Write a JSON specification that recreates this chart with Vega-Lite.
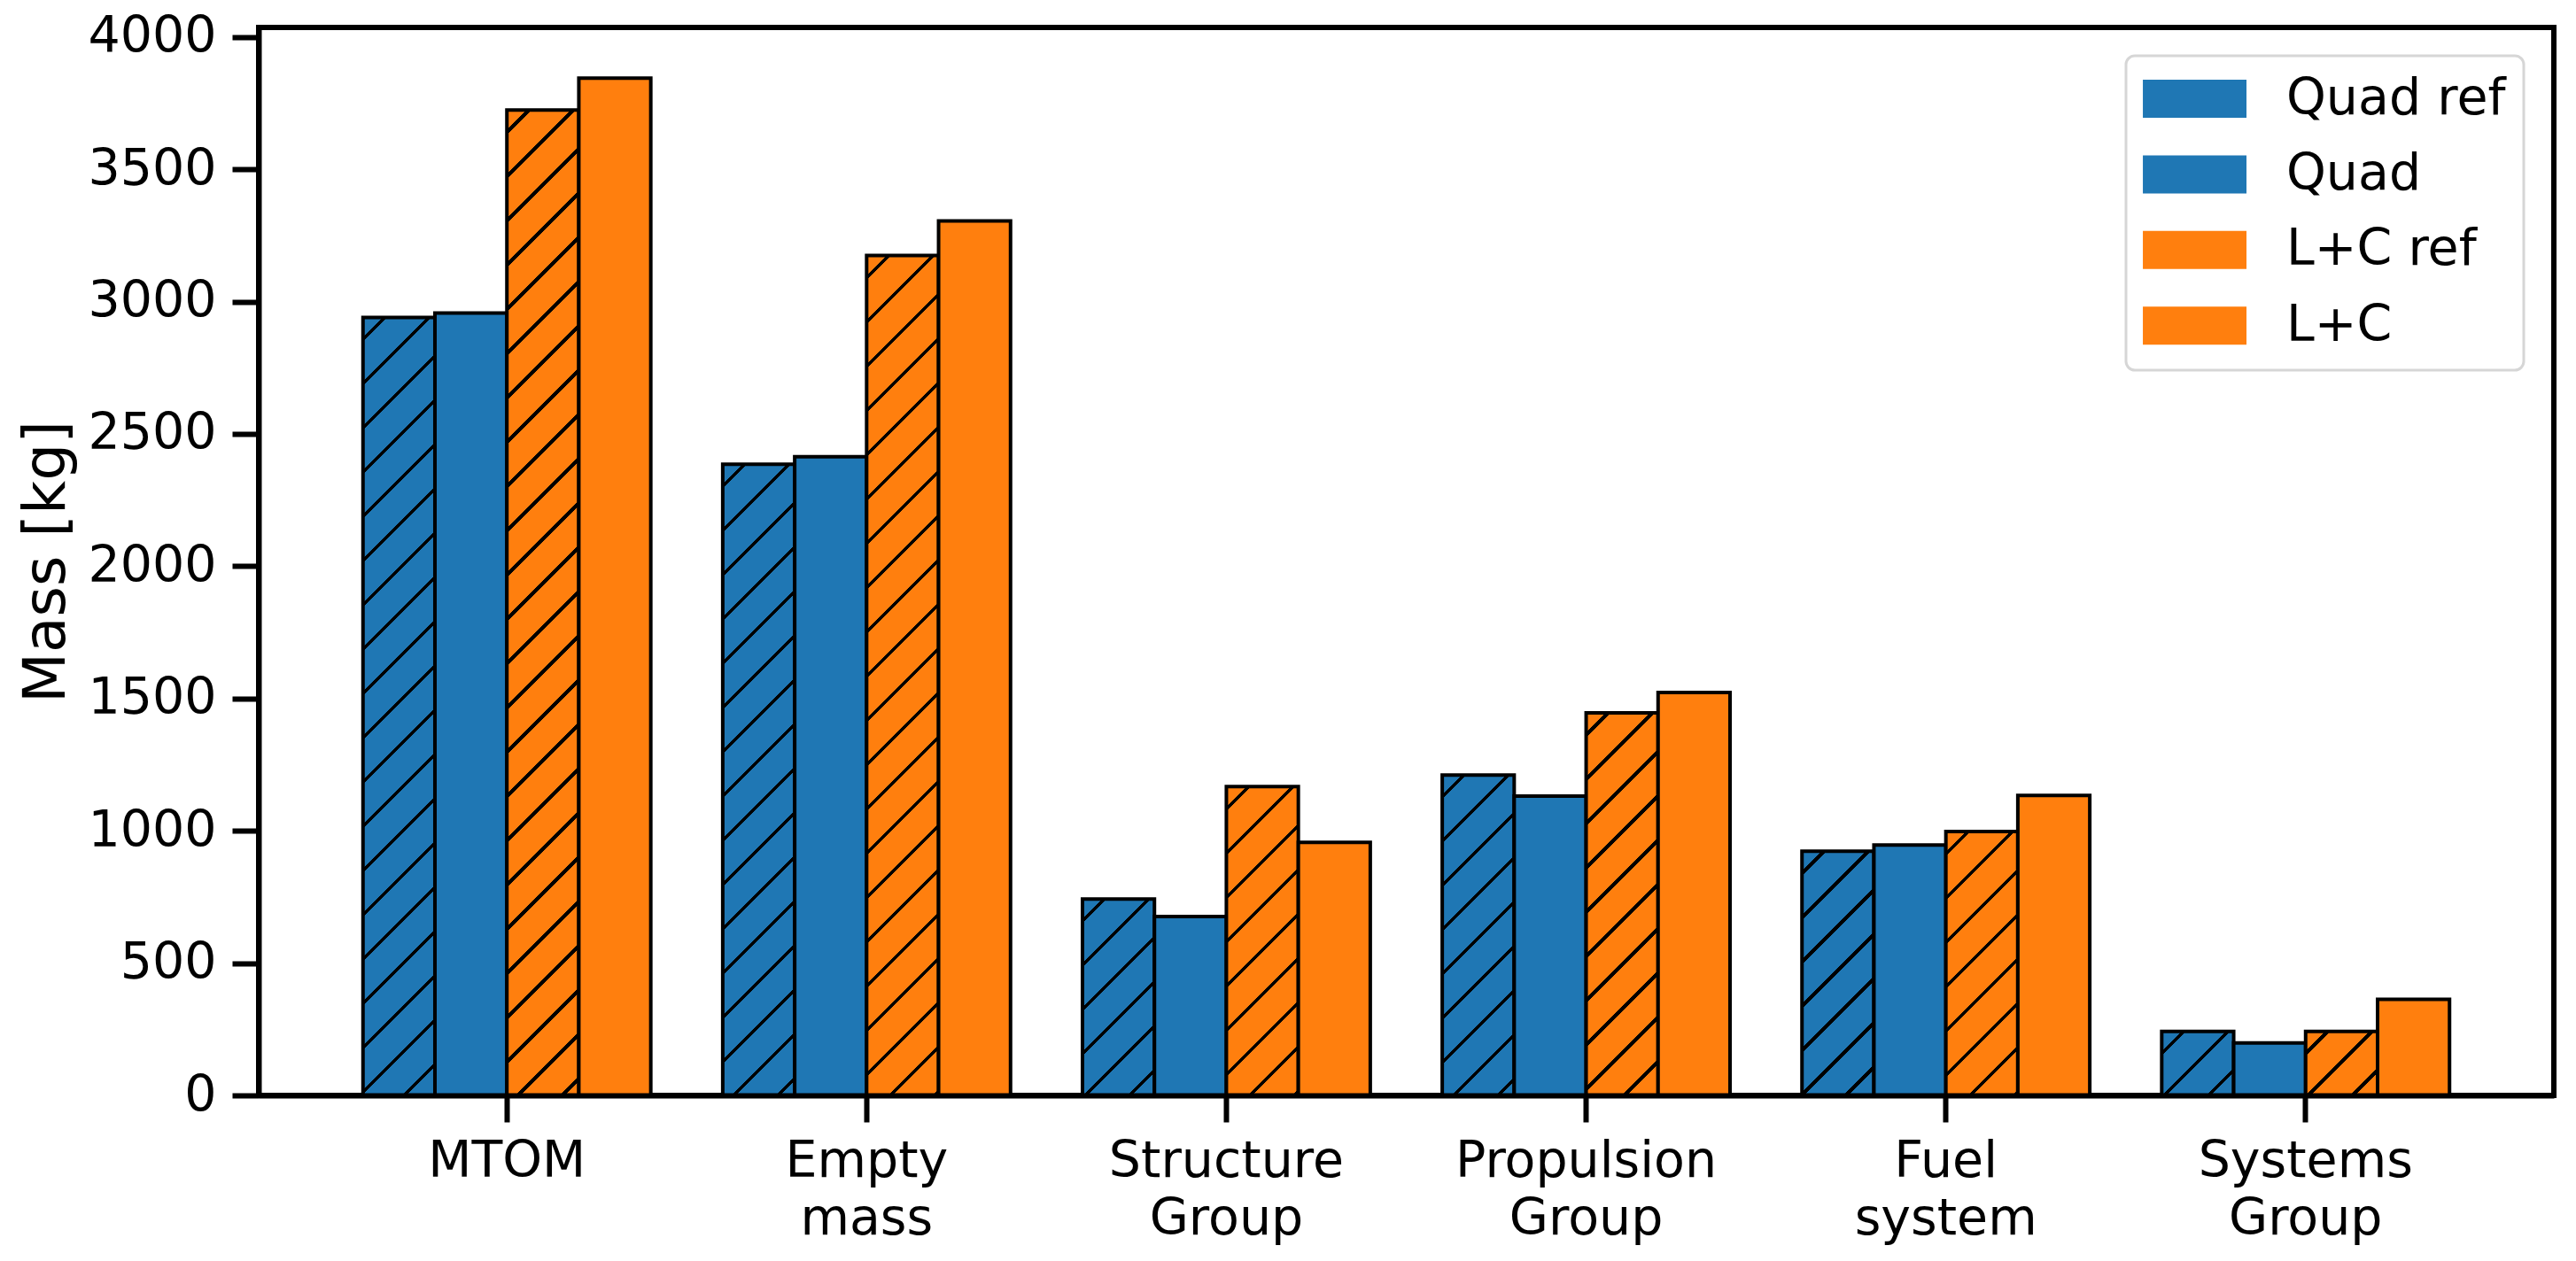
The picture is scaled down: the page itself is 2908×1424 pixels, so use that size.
{
  "$schema": "https://vega.github.io/schema/vega-lite/v6.json",
  "width": 2591,
  "height": 1206,
  "autosize": {"type": "none"},
  "padding": {"left": 292, "top": 31, "right": 25, "bottom": 187},
  "data": {
    "values": [
      {"cat": "MTOM", "series": "Quad ref", "mass": 2940},
      {"cat": "MTOM", "series": "Quad", "mass": 2957},
      {"cat": "MTOM", "series": "L+C ref", "mass": 3724},
      {"cat": "MTOM", "series": "L+C", "mass": 3844},
      {"cat": "Empty mass", "series": "Quad ref", "mass": 2385},
      {"cat": "Empty mass", "series": "Quad", "mass": 2414},
      {"cat": "Empty mass", "series": "L+C ref", "mass": 3174},
      {"cat": "Empty mass", "series": "L+C", "mass": 3305},
      {"cat": "Structure Group", "series": "Quad ref", "mass": 742},
      {"cat": "Structure Group", "series": "Quad", "mass": 676},
      {"cat": "Structure Group", "series": "L+C ref", "mass": 1167},
      {"cat": "Structure Group", "series": "L+C", "mass": 956},
      {"cat": "Propulsion Group", "series": "Quad ref", "mass": 1211},
      {"cat": "Propulsion Group", "series": "Quad", "mass": 1131},
      {"cat": "Propulsion Group", "series": "L+C ref", "mass": 1446},
      {"cat": "Propulsion Group", "series": "L+C", "mass": 1523},
      {"cat": "Fuel system", "series": "Quad ref", "mass": 923},
      {"cat": "Fuel system", "series": "Quad", "mass": 946},
      {"cat": "Fuel system", "series": "L+C ref", "mass": 997},
      {"cat": "Fuel system", "series": "L+C", "mass": 1134},
      {"cat": "Systems Group", "series": "Quad ref", "mass": 242},
      {"cat": "Systems Group", "series": "Quad", "mass": 198},
      {"cat": "Systems Group", "series": "L+C ref", "mass": 242},
      {"cat": "Systems Group", "series": "L+C", "mass": 363}
    ]
  },
  "encoding": {
    "x": {
      "field": "cat",
      "type": "nominal",
      "sort": ["MTOM", "Empty mass", "Structure Group", "Propulsion Group", "Fuel system", "Systems Group"],
      "scale": {"paddingInner": 0.2, "paddingOuter": 0.29},
      "axis": {
        "title": null,
        "labelAngle": 0,
        "labelExpr": "split(datum.label, ' ')",
        "labelFontSize": 57,
        "labelLineHeight": 65,
        "labelPadding": 16,
        "labelColor": "black",
        "labelLimit": 0,
        "tickSize": 30,
        "tickWidth": 6,
        "tickColor": "black",
        "domainWidth": 6,
        "domainColor": "black",
        "zindex": 1
      }
    },
    "xOffset": {
      "field": "series",
      "sort": ["Quad ref", "Quad", "L+C ref", "L+C"],
      "scale": {"paddingInner": 0, "paddingOuter": 0}
    },
    "y": {
      "field": "mass",
      "type": "quantitative",
      "scale": {"domain": [0, 4036], "nice": false},
      "axis": {
        "title": "Mass [kg]",
        "values": [0, 500, 1000, 1500, 2000, 2500, 3000, 3500, 4000],
        "format": "d",
        "grid": false,
        "labelFontSize": 57,
        "labelPadding": 18,
        "labelColor": "black",
        "tickSize": 30,
        "tickWidth": 6,
        "tickColor": "black",
        "domainWidth": 6,
        "domainColor": "black",
        "titleFontSize": 66,
        "titleFontWeight": "normal",
        "titleColor": "black",
        "titlePadding": 12,
        "zindex": 1
      }
    },
    "fill": {
      "field": "series",
      "type": "nominal",
      "scale": {
        "domain": ["Quad ref", "Quad", "L+C ref", "L+C"],
        "range": ["#1f77b4", "#1f77b4", "#ff7f0e", "#ff7f0e"]
      },
      "legend": {"title": null, "orient": "none", "legendX": 2108, "legendY": 32},
      "condition": [
        {"test": "datum.series === 'Quad ref' && datum.cat === 'MTOM'", "value": {"gradient": "linear", "x1": 0, "y1": 0, "x2": 0.12519, "y2": 1.3544, "stops": [
          {"offset": 0.0186, "color": "#1f77b4"}, {"offset": 0.0186, "color": "#000"}, {"offset": 0.023, "color": "#000"}, {"offset": 0.023, "color": "#1f77b4"},
          {"offset": 0.0603, "color": "#1f77b4"}, {"offset": 0.0603, "color": "#000"}, {"offset": 0.0647, "color": "#000"}, {"offset": 0.0647, "color": "#1f77b4"},
          {"offset": 0.102, "color": "#1f77b4"}, {"offset": 0.102, "color": "#000"}, {"offset": 0.1064, "color": "#000"}, {"offset": 0.1064, "color": "#1f77b4"},
          {"offset": 0.1436, "color": "#1f77b4"}, {"offset": 0.1436, "color": "#000"}, {"offset": 0.148, "color": "#000"}, {"offset": 0.148, "color": "#1f77b4"},
          {"offset": 0.1853, "color": "#1f77b4"}, {"offset": 0.1853, "color": "#000"}, {"offset": 0.1897, "color": "#000"}, {"offset": 0.1897, "color": "#1f77b4"},
          {"offset": 0.227, "color": "#1f77b4"}, {"offset": 0.227, "color": "#000"}, {"offset": 0.2314, "color": "#000"}, {"offset": 0.2314, "color": "#1f77b4"},
          {"offset": 0.2686, "color": "#1f77b4"}, {"offset": 0.2686, "color": "#000"}, {"offset": 0.273, "color": "#000"}, {"offset": 0.273, "color": "#1f77b4"},
          {"offset": 0.3103, "color": "#1f77b4"}, {"offset": 0.3103, "color": "#000"}, {"offset": 0.3147, "color": "#000"}, {"offset": 0.3147, "color": "#1f77b4"},
          {"offset": 0.352, "color": "#1f77b4"}, {"offset": 0.352, "color": "#000"}, {"offset": 0.3564, "color": "#000"}, {"offset": 0.3564, "color": "#1f77b4"},
          {"offset": 0.3936, "color": "#1f77b4"}, {"offset": 0.3936, "color": "#000"}, {"offset": 0.398, "color": "#000"}, {"offset": 0.398, "color": "#1f77b4"},
          {"offset": 0.4353, "color": "#1f77b4"}, {"offset": 0.4353, "color": "#000"}, {"offset": 0.4397, "color": "#000"}, {"offset": 0.4397, "color": "#1f77b4"},
          {"offset": 0.477, "color": "#1f77b4"}, {"offset": 0.477, "color": "#000"}, {"offset": 0.4814, "color": "#000"}, {"offset": 0.4814, "color": "#1f77b4"},
          {"offset": 0.5186, "color": "#1f77b4"}, {"offset": 0.5186, "color": "#000"}, {"offset": 0.523, "color": "#000"}, {"offset": 0.523, "color": "#1f77b4"},
          {"offset": 0.5603, "color": "#1f77b4"}, {"offset": 0.5603, "color": "#000"}, {"offset": 0.5647, "color": "#000"}, {"offset": 0.5647, "color": "#1f77b4"},
          {"offset": 0.602, "color": "#1f77b4"}, {"offset": 0.602, "color": "#000"}, {"offset": 0.6064, "color": "#000"}, {"offset": 0.6064, "color": "#1f77b4"},
          {"offset": 0.6436, "color": "#1f77b4"}, {"offset": 0.6436, "color": "#000"}, {"offset": 0.648, "color": "#000"}, {"offset": 0.648, "color": "#1f77b4"},
          {"offset": 0.6853, "color": "#1f77b4"}, {"offset": 0.6853, "color": "#000"}, {"offset": 0.6897, "color": "#000"}, {"offset": 0.6897, "color": "#1f77b4"},
          {"offset": 0.727, "color": "#1f77b4"}, {"offset": 0.727, "color": "#000"}, {"offset": 0.7314, "color": "#000"}, {"offset": 0.7314, "color": "#1f77b4"},
          {"offset": 0.7686, "color": "#1f77b4"}, {"offset": 0.7686, "color": "#000"}, {"offset": 0.773, "color": "#000"}, {"offset": 0.773, "color": "#1f77b4"}
        ]}},
        {"test": "datum.series === 'Quad ref' && datum.cat === 'Empty mass'", "value": {"gradient": "linear", "x1": 0, "y1": 0, "x2": 0.1894, "y2": 1.66225, "stops": [
          {"offset": 0.0186, "color": "#1f77b4"}, {"offset": 0.0186, "color": "#000"}, {"offset": 0.023, "color": "#000"}, {"offset": 0.023, "color": "#1f77b4"},
          {"offset": 0.0603, "color": "#1f77b4"}, {"offset": 0.0603, "color": "#000"}, {"offset": 0.0647, "color": "#000"}, {"offset": 0.0647, "color": "#1f77b4"},
          {"offset": 0.102, "color": "#1f77b4"}, {"offset": 0.102, "color": "#000"}, {"offset": 0.1064, "color": "#000"}, {"offset": 0.1064, "color": "#1f77b4"},
          {"offset": 0.1436, "color": "#1f77b4"}, {"offset": 0.1436, "color": "#000"}, {"offset": 0.148, "color": "#000"}, {"offset": 0.148, "color": "#1f77b4"},
          {"offset": 0.1853, "color": "#1f77b4"}, {"offset": 0.1853, "color": "#000"}, {"offset": 0.1897, "color": "#000"}, {"offset": 0.1897, "color": "#1f77b4"},
          {"offset": 0.227, "color": "#1f77b4"}, {"offset": 0.227, "color": "#000"}, {"offset": 0.2314, "color": "#000"}, {"offset": 0.2314, "color": "#1f77b4"},
          {"offset": 0.2686, "color": "#1f77b4"}, {"offset": 0.2686, "color": "#000"}, {"offset": 0.273, "color": "#000"}, {"offset": 0.273, "color": "#1f77b4"},
          {"offset": 0.3103, "color": "#1f77b4"}, {"offset": 0.3103, "color": "#000"}, {"offset": 0.3147, "color": "#000"}, {"offset": 0.3147, "color": "#1f77b4"},
          {"offset": 0.352, "color": "#1f77b4"}, {"offset": 0.352, "color": "#000"}, {"offset": 0.3564, "color": "#000"}, {"offset": 0.3564, "color": "#1f77b4"},
          {"offset": 0.3936, "color": "#1f77b4"}, {"offset": 0.3936, "color": "#000"}, {"offset": 0.398, "color": "#000"}, {"offset": 0.398, "color": "#1f77b4"},
          {"offset": 0.4353, "color": "#1f77b4"}, {"offset": 0.4353, "color": "#000"}, {"offset": 0.4397, "color": "#000"}, {"offset": 0.4397, "color": "#1f77b4"},
          {"offset": 0.477, "color": "#1f77b4"}, {"offset": 0.477, "color": "#000"}, {"offset": 0.4814, "color": "#000"}, {"offset": 0.4814, "color": "#1f77b4"},
          {"offset": 0.5186, "color": "#1f77b4"}, {"offset": 0.5186, "color": "#000"}, {"offset": 0.523, "color": "#000"}, {"offset": 0.523, "color": "#1f77b4"},
          {"offset": 0.5603, "color": "#1f77b4"}, {"offset": 0.5603, "color": "#000"}, {"offset": 0.5647, "color": "#000"}, {"offset": 0.5647, "color": "#1f77b4"},
          {"offset": 0.602, "color": "#1f77b4"}, {"offset": 0.602, "color": "#000"}, {"offset": 0.6064, "color": "#000"}, {"offset": 0.6064, "color": "#1f77b4"},
          {"offset": 0.6436, "color": "#1f77b4"}, {"offset": 0.6436, "color": "#000"}, {"offset": 0.648, "color": "#000"}, {"offset": 0.648, "color": "#1f77b4"}
        ]}},
        {"test": "datum.series === 'Quad ref' && datum.cat === 'Structure Group'", "value": {"gradient": "linear", "x1": 0, "y1": 0, "x2": 1.74771, "y2": 4.77219, "stops": [
          {"offset": 0.0186, "color": "#1f77b4"}, {"offset": 0.0186, "color": "#000"}, {"offset": 0.023, "color": "#000"}, {"offset": 0.023, "color": "#1f77b4"},
          {"offset": 0.0603, "color": "#1f77b4"}, {"offset": 0.0603, "color": "#000"}, {"offset": 0.0647, "color": "#000"}, {"offset": 0.0647, "color": "#1f77b4"},
          {"offset": 0.102, "color": "#1f77b4"}, {"offset": 0.102, "color": "#000"}, {"offset": 0.1064, "color": "#000"}, {"offset": 0.1064, "color": "#1f77b4"},
          {"offset": 0.1436, "color": "#1f77b4"}, {"offset": 0.1436, "color": "#000"}, {"offset": 0.148, "color": "#000"}, {"offset": 0.148, "color": "#1f77b4"},
          {"offset": 0.1853, "color": "#1f77b4"}, {"offset": 0.1853, "color": "#000"}, {"offset": 0.1897, "color": "#000"}, {"offset": 0.1897, "color": "#1f77b4"},
          {"offset": 0.227, "color": "#1f77b4"}, {"offset": 0.227, "color": "#000"}, {"offset": 0.2314, "color": "#000"}, {"offset": 0.2314, "color": "#1f77b4"}
        ]}},
        {"test": "datum.series === 'Quad ref' && datum.cat === 'Propulsion Group'", "value": {"gradient": "linear", "x1": 0, "y1": 0, "x2": 0.70847, "y2": 3.1572, "stops": [
          {"offset": 0.0186, "color": "#1f77b4"}, {"offset": 0.0186, "color": "#000"}, {"offset": 0.023, "color": "#000"}, {"offset": 0.023, "color": "#1f77b4"},
          {"offset": 0.0603, "color": "#1f77b4"}, {"offset": 0.0603, "color": "#000"}, {"offset": 0.0647, "color": "#000"}, {"offset": 0.0647, "color": "#1f77b4"},
          {"offset": 0.102, "color": "#1f77b4"}, {"offset": 0.102, "color": "#000"}, {"offset": 0.1064, "color": "#000"}, {"offset": 0.1064, "color": "#1f77b4"},
          {"offset": 0.1436, "color": "#1f77b4"}, {"offset": 0.1436, "color": "#000"}, {"offset": 0.148, "color": "#000"}, {"offset": 0.148, "color": "#1f77b4"},
          {"offset": 0.1853, "color": "#1f77b4"}, {"offset": 0.1853, "color": "#000"}, {"offset": 0.1897, "color": "#000"}, {"offset": 0.1897, "color": "#1f77b4"},
          {"offset": 0.227, "color": "#1f77b4"}, {"offset": 0.227, "color": "#000"}, {"offset": 0.2314, "color": "#000"}, {"offset": 0.2314, "color": "#1f77b4"},
          {"offset": 0.2686, "color": "#1f77b4"}, {"offset": 0.2686, "color": "#000"}, {"offset": 0.273, "color": "#000"}, {"offset": 0.273, "color": "#1f77b4"},
          {"offset": 0.3103, "color": "#1f77b4"}, {"offset": 0.3103, "color": "#000"}, {"offset": 0.3147, "color": "#000"}, {"offset": 0.3147, "color": "#1f77b4"},
          {"offset": 0.352, "color": "#1f77b4"}, {"offset": 0.352, "color": "#000"}, {"offset": 0.3564, "color": "#000"}, {"offset": 0.3564, "color": "#1f77b4"}
        ]}},
        {"test": "datum.series === 'Quad ref' && datum.cat === 'Fuel system'", "value": {"gradient": "linear", "x1": 0, "y1": 0, "x2": 1.17882, "y2": 4.00392, "stops": [
          {"offset": 0.0186, "color": "#1f77b4"}, {"offset": 0.0186, "color": "#000"}, {"offset": 0.023, "color": "#000"}, {"offset": 0.023, "color": "#1f77b4"},
          {"offset": 0.0603, "color": "#1f77b4"}, {"offset": 0.0603, "color": "#000"}, {"offset": 0.0647, "color": "#000"}, {"offset": 0.0647, "color": "#1f77b4"},
          {"offset": 0.102, "color": "#1f77b4"}, {"offset": 0.102, "color": "#000"}, {"offset": 0.1064, "color": "#000"}, {"offset": 0.1064, "color": "#1f77b4"},
          {"offset": 0.1436, "color": "#1f77b4"}, {"offset": 0.1436, "color": "#000"}, {"offset": 0.148, "color": "#000"}, {"offset": 0.148, "color": "#1f77b4"},
          {"offset": 0.1853, "color": "#1f77b4"}, {"offset": 0.1853, "color": "#000"}, {"offset": 0.1897, "color": "#000"}, {"offset": 0.1897, "color": "#1f77b4"},
          {"offset": 0.227, "color": "#1f77b4"}, {"offset": 0.227, "color": "#000"}, {"offset": 0.2314, "color": "#000"}, {"offset": 0.2314, "color": "#1f77b4"},
          {"offset": 0.2686, "color": "#1f77b4"}, {"offset": 0.2686, "color": "#000"}, {"offset": 0.273, "color": "#000"}, {"offset": 0.273, "color": "#1f77b4"}
        ]}},
        {"test": "datum.series === 'Quad ref' && datum.cat === 'Systems Group'", "value": {"gradient": "linear", "x1": 0, "y1": 0, "x2": 8.24226, "y2": 7.33988, "stops": [
          {"offset": 0.0186, "color": "#1f77b4"}, {"offset": 0.0186, "color": "#000"}, {"offset": 0.023, "color": "#000"}, {"offset": 0.023, "color": "#1f77b4"},
          {"offset": 0.0603, "color": "#1f77b4"}, {"offset": 0.0603, "color": "#000"}, {"offset": 0.0647, "color": "#000"}, {"offset": 0.0647, "color": "#1f77b4"},
          {"offset": 0.102, "color": "#1f77b4"}, {"offset": 0.102, "color": "#000"}, {"offset": 0.1064, "color": "#000"}, {"offset": 0.1064, "color": "#1f77b4"}
        ]}},
        {"test": "datum.series === 'L+C ref' && datum.cat === 'MTOM'", "value": {"gradient": "linear", "x1": 0, "y1": 0, "x2": 0.07827, "y2": 1.07268, "stops": [
          {"offset": 0.0186, "color": "#ff7f0e"}, {"offset": 0.0186, "color": "#000"}, {"offset": 0.023, "color": "#000"}, {"offset": 0.023, "color": "#ff7f0e"},
          {"offset": 0.0603, "color": "#ff7f0e"}, {"offset": 0.0603, "color": "#000"}, {"offset": 0.0647, "color": "#000"}, {"offset": 0.0647, "color": "#ff7f0e"},
          {"offset": 0.102, "color": "#ff7f0e"}, {"offset": 0.102, "color": "#000"}, {"offset": 0.1064, "color": "#000"}, {"offset": 0.1064, "color": "#ff7f0e"},
          {"offset": 0.1436, "color": "#ff7f0e"}, {"offset": 0.1436, "color": "#000"}, {"offset": 0.148, "color": "#000"}, {"offset": 0.148, "color": "#ff7f0e"},
          {"offset": 0.1853, "color": "#ff7f0e"}, {"offset": 0.1853, "color": "#000"}, {"offset": 0.1897, "color": "#000"}, {"offset": 0.1897, "color": "#ff7f0e"},
          {"offset": 0.227, "color": "#ff7f0e"}, {"offset": 0.227, "color": "#000"}, {"offset": 0.2314, "color": "#000"}, {"offset": 0.2314, "color": "#ff7f0e"},
          {"offset": 0.2686, "color": "#ff7f0e"}, {"offset": 0.2686, "color": "#000"}, {"offset": 0.273, "color": "#000"}, {"offset": 0.273, "color": "#ff7f0e"},
          {"offset": 0.3103, "color": "#ff7f0e"}, {"offset": 0.3103, "color": "#000"}, {"offset": 0.3147, "color": "#000"}, {"offset": 0.3147, "color": "#ff7f0e"},
          {"offset": 0.352, "color": "#ff7f0e"}, {"offset": 0.352, "color": "#000"}, {"offset": 0.3564, "color": "#000"}, {"offset": 0.3564, "color": "#ff7f0e"},
          {"offset": 0.3936, "color": "#ff7f0e"}, {"offset": 0.3936, "color": "#000"}, {"offset": 0.398, "color": "#000"}, {"offset": 0.398, "color": "#ff7f0e"},
          {"offset": 0.4353, "color": "#ff7f0e"}, {"offset": 0.4353, "color": "#000"}, {"offset": 0.4397, "color": "#000"}, {"offset": 0.4397, "color": "#ff7f0e"},
          {"offset": 0.477, "color": "#ff7f0e"}, {"offset": 0.477, "color": "#000"}, {"offset": 0.4814, "color": "#000"}, {"offset": 0.4814, "color": "#ff7f0e"},
          {"offset": 0.5186, "color": "#ff7f0e"}, {"offset": 0.5186, "color": "#000"}, {"offset": 0.523, "color": "#000"}, {"offset": 0.523, "color": "#ff7f0e"},
          {"offset": 0.5603, "color": "#ff7f0e"}, {"offset": 0.5603, "color": "#000"}, {"offset": 0.5647, "color": "#000"}, {"offset": 0.5647, "color": "#ff7f0e"},
          {"offset": 0.602, "color": "#ff7f0e"}, {"offset": 0.602, "color": "#000"}, {"offset": 0.6064, "color": "#000"}, {"offset": 0.6064, "color": "#ff7f0e"},
          {"offset": 0.6436, "color": "#ff7f0e"}, {"offset": 0.6436, "color": "#000"}, {"offset": 0.648, "color": "#000"}, {"offset": 0.648, "color": "#ff7f0e"},
          {"offset": 0.6853, "color": "#ff7f0e"}, {"offset": 0.6853, "color": "#000"}, {"offset": 0.6897, "color": "#000"}, {"offset": 0.6897, "color": "#ff7f0e"},
          {"offset": 0.727, "color": "#ff7f0e"}, {"offset": 0.727, "color": "#000"}, {"offset": 0.7314, "color": "#000"}, {"offset": 0.7314, "color": "#ff7f0e"},
          {"offset": 0.7686, "color": "#ff7f0e"}, {"offset": 0.7686, "color": "#000"}, {"offset": 0.773, "color": "#000"}, {"offset": 0.773, "color": "#ff7f0e"},
          {"offset": 0.8103, "color": "#ff7f0e"}, {"offset": 0.8103, "color": "#000"}, {"offset": 0.8147, "color": "#000"}, {"offset": 0.8147, "color": "#ff7f0e"},
          {"offset": 0.852, "color": "#ff7f0e"}, {"offset": 0.852, "color": "#000"}, {"offset": 0.8564, "color": "#000"}, {"offset": 0.8564, "color": "#ff7f0e"},
          {"offset": 0.8936, "color": "#ff7f0e"}, {"offset": 0.8936, "color": "#000"}, {"offset": 0.898, "color": "#000"}, {"offset": 0.898, "color": "#ff7f0e"},
          {"offset": 0.9353, "color": "#ff7f0e"}, {"offset": 0.9353, "color": "#000"}, {"offset": 0.9397, "color": "#000"}, {"offset": 0.9397, "color": "#ff7f0e"},
          {"offset": 0.977, "color": "#ff7f0e"}, {"offset": 0.977, "color": "#000"}, {"offset": 0.9814, "color": "#000"}, {"offset": 0.9814, "color": "#ff7f0e"}
        ]}},
        {"test": "datum.series === 'L+C ref' && datum.cat === 'Empty mass'", "value": {"gradient": "linear", "x1": 0, "y1": 0, "x2": 0.10754, "y2": 1.25606, "stops": [
          {"offset": 0.0186, "color": "#ff7f0e"}, {"offset": 0.0186, "color": "#000"}, {"offset": 0.023, "color": "#000"}, {"offset": 0.023, "color": "#ff7f0e"},
          {"offset": 0.0603, "color": "#ff7f0e"}, {"offset": 0.0603, "color": "#000"}, {"offset": 0.0647, "color": "#000"}, {"offset": 0.0647, "color": "#ff7f0e"},
          {"offset": 0.102, "color": "#ff7f0e"}, {"offset": 0.102, "color": "#000"}, {"offset": 0.1064, "color": "#000"}, {"offset": 0.1064, "color": "#ff7f0e"},
          {"offset": 0.1436, "color": "#ff7f0e"}, {"offset": 0.1436, "color": "#000"}, {"offset": 0.148, "color": "#000"}, {"offset": 0.148, "color": "#ff7f0e"},
          {"offset": 0.1853, "color": "#ff7f0e"}, {"offset": 0.1853, "color": "#000"}, {"offset": 0.1897, "color": "#000"}, {"offset": 0.1897, "color": "#ff7f0e"},
          {"offset": 0.227, "color": "#ff7f0e"}, {"offset": 0.227, "color": "#000"}, {"offset": 0.2314, "color": "#000"}, {"offset": 0.2314, "color": "#ff7f0e"},
          {"offset": 0.2686, "color": "#ff7f0e"}, {"offset": 0.2686, "color": "#000"}, {"offset": 0.273, "color": "#000"}, {"offset": 0.273, "color": "#ff7f0e"},
          {"offset": 0.3103, "color": "#ff7f0e"}, {"offset": 0.3103, "color": "#000"}, {"offset": 0.3147, "color": "#000"}, {"offset": 0.3147, "color": "#ff7f0e"},
          {"offset": 0.352, "color": "#ff7f0e"}, {"offset": 0.352, "color": "#000"}, {"offset": 0.3564, "color": "#000"}, {"offset": 0.3564, "color": "#ff7f0e"},
          {"offset": 0.3936, "color": "#ff7f0e"}, {"offset": 0.3936, "color": "#000"}, {"offset": 0.398, "color": "#000"}, {"offset": 0.398, "color": "#ff7f0e"},
          {"offset": 0.4353, "color": "#ff7f0e"}, {"offset": 0.4353, "color": "#000"}, {"offset": 0.4397, "color": "#000"}, {"offset": 0.4397, "color": "#ff7f0e"},
          {"offset": 0.477, "color": "#ff7f0e"}, {"offset": 0.477, "color": "#000"}, {"offset": 0.4814, "color": "#000"}, {"offset": 0.4814, "color": "#ff7f0e"},
          {"offset": 0.5186, "color": "#ff7f0e"}, {"offset": 0.5186, "color": "#000"}, {"offset": 0.523, "color": "#000"}, {"offset": 0.523, "color": "#ff7f0e"},
          {"offset": 0.5603, "color": "#ff7f0e"}, {"offset": 0.5603, "color": "#000"}, {"offset": 0.5647, "color": "#000"}, {"offset": 0.5647, "color": "#ff7f0e"},
          {"offset": 0.602, "color": "#ff7f0e"}, {"offset": 0.602, "color": "#000"}, {"offset": 0.6064, "color": "#000"}, {"offset": 0.6064, "color": "#ff7f0e"},
          {"offset": 0.6436, "color": "#ff7f0e"}, {"offset": 0.6436, "color": "#000"}, {"offset": 0.648, "color": "#000"}, {"offset": 0.648, "color": "#ff7f0e"},
          {"offset": 0.6853, "color": "#ff7f0e"}, {"offset": 0.6853, "color": "#000"}, {"offset": 0.6897, "color": "#000"}, {"offset": 0.6897, "color": "#ff7f0e"},
          {"offset": 0.727, "color": "#ff7f0e"}, {"offset": 0.727, "color": "#000"}, {"offset": 0.7314, "color": "#000"}, {"offset": 0.7314, "color": "#ff7f0e"},
          {"offset": 0.7686, "color": "#ff7f0e"}, {"offset": 0.7686, "color": "#000"}, {"offset": 0.773, "color": "#000"}, {"offset": 0.773, "color": "#ff7f0e"},
          {"offset": 0.8103, "color": "#ff7f0e"}, {"offset": 0.8103, "color": "#000"}, {"offset": 0.8147, "color": "#000"}, {"offset": 0.8147, "color": "#ff7f0e"},
          {"offset": 0.852, "color": "#ff7f0e"}, {"offset": 0.852, "color": "#000"}, {"offset": 0.8564, "color": "#000"}, {"offset": 0.8564, "color": "#ff7f0e"}
        ]}},
        {"test": "datum.series === 'L+C ref' && datum.cat === 'Structure Group'", "value": {"gradient": "linear", "x1": 0, "y1": 0, "x2": 0.76011, "y2": 3.26426, "stops": [
          {"offset": 0.0186, "color": "#ff7f0e"}, {"offset": 0.0186, "color": "#000"}, {"offset": 0.023, "color": "#000"}, {"offset": 0.023, "color": "#ff7f0e"},
          {"offset": 0.0603, "color": "#ff7f0e"}, {"offset": 0.0603, "color": "#000"}, {"offset": 0.0647, "color": "#000"}, {"offset": 0.0647, "color": "#ff7f0e"},
          {"offset": 0.102, "color": "#ff7f0e"}, {"offset": 0.102, "color": "#000"}, {"offset": 0.1064, "color": "#000"}, {"offset": 0.1064, "color": "#ff7f0e"},
          {"offset": 0.1436, "color": "#ff7f0e"}, {"offset": 0.1436, "color": "#000"}, {"offset": 0.148, "color": "#000"}, {"offset": 0.148, "color": "#ff7f0e"},
          {"offset": 0.1853, "color": "#ff7f0e"}, {"offset": 0.1853, "color": "#000"}, {"offset": 0.1897, "color": "#000"}, {"offset": 0.1897, "color": "#ff7f0e"},
          {"offset": 0.227, "color": "#ff7f0e"}, {"offset": 0.227, "color": "#000"}, {"offset": 0.2314, "color": "#000"}, {"offset": 0.2314, "color": "#ff7f0e"},
          {"offset": 0.2686, "color": "#ff7f0e"}, {"offset": 0.2686, "color": "#000"}, {"offset": 0.273, "color": "#000"}, {"offset": 0.273, "color": "#ff7f0e"},
          {"offset": 0.3103, "color": "#ff7f0e"}, {"offset": 0.3103, "color": "#000"}, {"offset": 0.3147, "color": "#000"}, {"offset": 0.3147, "color": "#ff7f0e"},
          {"offset": 0.352, "color": "#ff7f0e"}, {"offset": 0.352, "color": "#000"}, {"offset": 0.3564, "color": "#000"}, {"offset": 0.3564, "color": "#ff7f0e"}
        ]}},
        {"test": "datum.series === 'L+C ref' && datum.cat === 'Propulsion Group'", "value": {"gradient": "linear", "x1": 0, "y1": 0, "x2": 0.50412, "y2": 2.68253, "stops": [
          {"offset": 0.0186, "color": "#ff7f0e"}, {"offset": 0.0186, "color": "#000"}, {"offset": 0.023, "color": "#000"}, {"offset": 0.023, "color": "#ff7f0e"},
          {"offset": 0.0603, "color": "#ff7f0e"}, {"offset": 0.0603, "color": "#000"}, {"offset": 0.0647, "color": "#000"}, {"offset": 0.0647, "color": "#ff7f0e"},
          {"offset": 0.102, "color": "#ff7f0e"}, {"offset": 0.102, "color": "#000"}, {"offset": 0.1064, "color": "#000"}, {"offset": 0.1064, "color": "#ff7f0e"},
          {"offset": 0.1436, "color": "#ff7f0e"}, {"offset": 0.1436, "color": "#000"}, {"offset": 0.148, "color": "#000"}, {"offset": 0.148, "color": "#ff7f0e"},
          {"offset": 0.1853, "color": "#ff7f0e"}, {"offset": 0.1853, "color": "#000"}, {"offset": 0.1897, "color": "#000"}, {"offset": 0.1897, "color": "#ff7f0e"},
          {"offset": 0.227, "color": "#ff7f0e"}, {"offset": 0.227, "color": "#000"}, {"offset": 0.2314, "color": "#000"}, {"offset": 0.2314, "color": "#ff7f0e"},
          {"offset": 0.2686, "color": "#ff7f0e"}, {"offset": 0.2686, "color": "#000"}, {"offset": 0.273, "color": "#000"}, {"offset": 0.273, "color": "#ff7f0e"},
          {"offset": 0.3103, "color": "#ff7f0e"}, {"offset": 0.3103, "color": "#000"}, {"offset": 0.3147, "color": "#000"}, {"offset": 0.3147, "color": "#ff7f0e"},
          {"offset": 0.352, "color": "#ff7f0e"}, {"offset": 0.352, "color": "#000"}, {"offset": 0.3564, "color": "#000"}, {"offset": 0.3564, "color": "#ff7f0e"},
          {"offset": 0.3936, "color": "#ff7f0e"}, {"offset": 0.3936, "color": "#000"}, {"offset": 0.398, "color": "#000"}, {"offset": 0.398, "color": "#ff7f0e"}
        ]}},
        {"test": "datum.series === 'L+C ref' && datum.cat === 'Fuel system'", "value": {"gradient": "linear", "x1": 0, "y1": 0, "x2": 1.02199, "y2": 3.74954, "stops": [
          {"offset": 0.0186, "color": "#ff7f0e"}, {"offset": 0.0186, "color": "#000"}, {"offset": 0.023, "color": "#000"}, {"offset": 0.023, "color": "#ff7f0e"},
          {"offset": 0.0603, "color": "#ff7f0e"}, {"offset": 0.0603, "color": "#000"}, {"offset": 0.0647, "color": "#000"}, {"offset": 0.0647, "color": "#ff7f0e"},
          {"offset": 0.102, "color": "#ff7f0e"}, {"offset": 0.102, "color": "#000"}, {"offset": 0.1064, "color": "#000"}, {"offset": 0.1064, "color": "#ff7f0e"},
          {"offset": 0.1436, "color": "#ff7f0e"}, {"offset": 0.1436, "color": "#000"}, {"offset": 0.148, "color": "#000"}, {"offset": 0.148, "color": "#ff7f0e"},
          {"offset": 0.1853, "color": "#ff7f0e"}, {"offset": 0.1853, "color": "#000"}, {"offset": 0.1897, "color": "#000"}, {"offset": 0.1897, "color": "#ff7f0e"},
          {"offset": 0.227, "color": "#ff7f0e"}, {"offset": 0.227, "color": "#000"}, {"offset": 0.2314, "color": "#000"}, {"offset": 0.2314, "color": "#ff7f0e"},
          {"offset": 0.2686, "color": "#ff7f0e"}, {"offset": 0.2686, "color": "#000"}, {"offset": 0.273, "color": "#000"}, {"offset": 0.273, "color": "#ff7f0e"},
          {"offset": 0.3103, "color": "#ff7f0e"}, {"offset": 0.3103, "color": "#000"}, {"offset": 0.3147, "color": "#000"}, {"offset": 0.3147, "color": "#ff7f0e"}
        ]}},
        {"test": "datum.series === 'L+C ref' && datum.cat === 'Systems Group'", "value": {"gradient": "linear", "x1": 0, "y1": 0, "x2": 8.24226, "y2": 7.33988, "stops": [
          {"offset": 0.0186, "color": "#ff7f0e"}, {"offset": 0.0186, "color": "#000"}, {"offset": 0.023, "color": "#000"}, {"offset": 0.023, "color": "#ff7f0e"},
          {"offset": 0.0603, "color": "#ff7f0e"}, {"offset": 0.0603, "color": "#000"}, {"offset": 0.0647, "color": "#000"}, {"offset": 0.0647, "color": "#ff7f0e"},
          {"offset": 0.102, "color": "#ff7f0e"}, {"offset": 0.102, "color": "#000"}, {"offset": 0.1064, "color": "#000"}, {"offset": 0.1064, "color": "#ff7f0e"}
        ]}}
      ]
    }
  },
  "layer": [
    {"mark": {"type": "bar", "stroke": "black", "strokeWidth": 4}},
    {
      "mark": {"type": "point", "filled": true, "opacity": 0, "stroke": "black", "strokeWidth": 4},
      "encoding": {
        "shape": {
          "field": "series",
          "type": "nominal",
          "scale": {
            "domain": ["Quad ref", "Quad", "L+C ref", "L+C"],
            "range": [
              "M-1.37,-1H4.07V1H-1.37Z M-0.86,1L1.14,-1 M1.47,1L3.47,-1 M3.8,1L4.07,0.73 M-1.37,-0.82L-1.19,-1",
              "M-1.37,-1H4.07V1H-1.37Z",
              "M-1.37,-1H4.07V1H-1.37Z M-0.86,1L1.14,-1 M1.47,1L3.47,-1 M3.8,1L4.07,0.73 M-1.37,-0.82L-1.19,-1",
              "M-1.37,-1H4.07V1H-1.37Z"
            ]
          },
          "legend": {"title": null, "orient": "none", "legendX": 2108, "legendY": 32}
        }
      }
    }
  ],
  "config": {
    "font": "DejaVu Sans",
    "view": {"stroke": "black", "strokeWidth": 6},
    "legend": {
      "padding": 20,
      "cornerRadius": 10,
      "strokeColor": "#d6d6d6",
      "strokeWidth": 3,
      "fillColor": "white",
      "symbolSize": 1849,
      "symbolStrokeColor": "black",
      "symbolStrokeWidth": 4,
      "symbolOpacity": 1,
      "labelFontSize": 57,
      "labelColor": "black",
      "labelOffset": 104,
      "labelLimit": 0,
      "rowPadding": 26.4
    }
  }
}
